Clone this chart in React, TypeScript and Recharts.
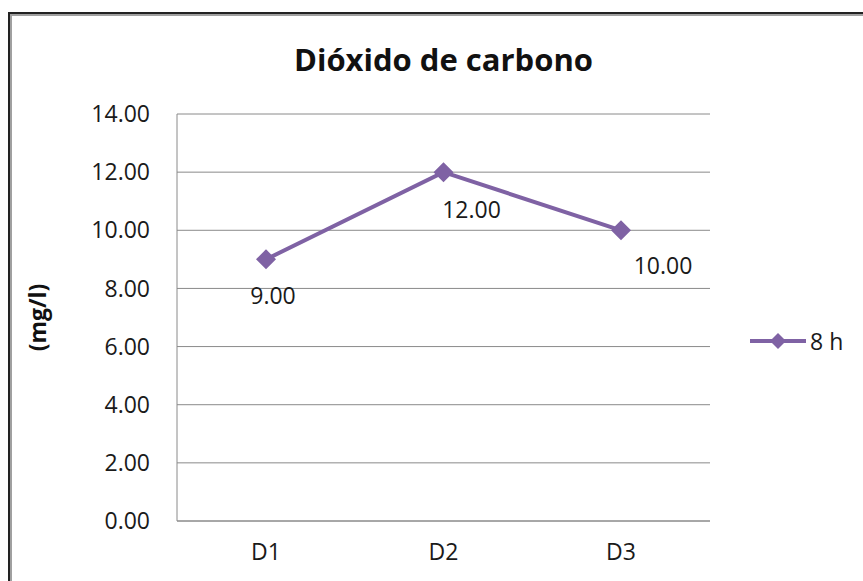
import { LineChart, Line, XAxis, YAxis, CartesianGrid, Legend, LabelList } from 'recharts';

const CATEGORIES = ['D1', 'D2', 'D3'];
const VALUES_8H = [9, 12, 10];
const Y_TICKS = [0, 2, 4, 6, 8, 10, 12, 14];
const SERIES_NAME = '8 h';

const PURPLE = '#7F62A4';
const FONT = '"Open Sans", "Noto Sans", sans-serif';
// label offsets relative to each point (Excel placed them a bit irregularly)
const LABEL_OFFSETS = [
  { dx: 7, dy: 45 },
  { dx: 28, dy: 46 },
  { dx: 42, dy: 44 },
];

const data = CATEGORIES.map((name, i) => ({ name, v8: VALUES_8H[i] }));

function Diamond(props: any) {
  const { cx, cy, index } = props;
  const r = 10;
  if (cx == null || cy == null) return <g key={`d-${index}`} />;
  return (
    <polygon
      key={`d-${index}`}
      points={`${cx},${cy - r} ${cx + r},${cy} ${cx},${cy + r} ${cx - r},${cy}`}
      fill={PURPLE}
    />
  );
}

function ValueLabel(props: any) {
  const { x, y, value, index } = props;
  const off = LABEL_OFFSETS[index] || { dx: 0, dy: 30 };
  return (
    <text
      x={x + off.dx}
      y={y + off.dy}
      textAnchor="middle"
      fontSize={23}
      fontFamily={FONT}
      fill="#1a1a1a"
    >
      {Number(value).toFixed(2)}
    </text>
  );
}

function LegendContent() {
  return (
    <div style={{ display: 'flex', alignItems: 'center', fontFamily: FONT, fontSize: 23, color: '#1a1a1a' }}>
      <svg width={60} height={24}>
        <line x1={2} y1={12} x2={58} y2={12} stroke={PURPLE} strokeWidth={4} />
        <polygon points="30,4 38,12 30,20 22,12" fill={PURPLE} />
      </svg>
      <span style={{ marginLeft: 2 }}>{SERIES_NAME}</span>
    </div>
  );
}

export default function App() {
  return (
    <div style={{ position: 'absolute', left: 0, top: 0, width: 863, height: 581, overflow: 'hidden', background: '#fff' }}>
      <div
        style={{
          position: 'absolute',
          left: 8,
          top: 12,
          width: 900,
          height: 620,
          borderTop: '2px solid #222',
          borderLeft: '2px solid #222',
        }}
      >
        <div style={{ width: '100%', height: '100%', borderTop: '2px solid #a0a0a0', borderLeft: '2px solid #a0a0a0' }} />
      </div>
      <div
        style={{
          position: 'absolute',
          left: 0,
          top: 38,
          width: 887,
          textAlign: 'center',
          fontFamily: FONT,
          fontWeight: 700,
          fontSize: 31,
          lineHeight: '42px',
          color: '#111',
        }}
      >
        Dióxido de carbono
      </div>
      <div style={{ position: 'absolute', left: 0, top: 0 }}>
        <LineChart
          width={863}
          height={581}
          data={data}
          margin={{ top: 114, right: 153, bottom: 0, left: 0 }}
        >
          <CartesianGrid vertical={false} stroke="#8a8a8a" strokeWidth={1} />
          <XAxis
            dataKey="name"
            height={60}
            padding={{ left: 89, right: 89 }}
            stroke="#8a8a8a"
            tickLine={false}
            tickSize={0}
            tickMargin={23}
            tick={{ fontSize: 23, fontFamily: FONT, fill: '#1a1a1a' }}
          />
          <YAxis
            width={177}
            domain={[0, 14]}
            ticks={Y_TICKS}
            interval={0}
            stroke="#8a8a8a"
            tickLine={false}
            tickSize={0}
            tickMargin={27}
            tickFormatter={(v) => Number(v).toFixed(2)}
            tick={{ fontSize: 23, fontFamily: FONT, fill: '#1a1a1a' }}
            label={{
              value: '(mg/l)',
              angle: -90,
              position: 'insideLeft',
              offset: 38,
              style: { fontSize: 23, fontWeight: 700, fontFamily: FONT, fill: '#111', textAnchor: 'middle' },
            }}
          />
          <Legend
            layout="vertical"
            align="center"
            verticalAlign="middle"
            content={<LegendContent />}
            wrapperStyle={{ left: 748, top: 325, width: 110 }}
          />
          <Line
            type="linear"
            dataKey="v8"
            name={SERIES_NAME}
            stroke={PURPLE}
            strokeWidth={4}
            dot={Diamond}
            activeDot={false}
            isAnimationActive={false}
          >
            <LabelList dataKey="v8" content={ValueLabel} />
          </Line>
        </LineChart>
      </div>
    </div>
  );
}
